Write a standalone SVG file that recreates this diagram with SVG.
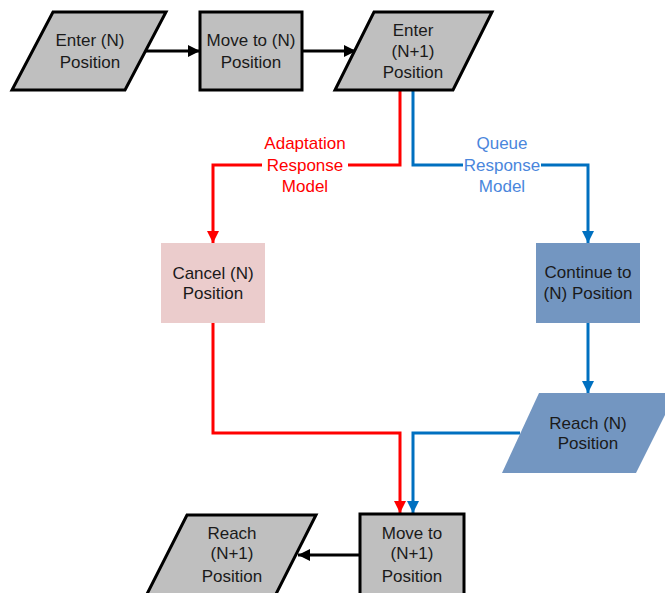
<svg xmlns="http://www.w3.org/2000/svg" width="665" height="593" viewBox="0 0 665 593">
<defs>
<style>
.t{font-family:"Liberation Sans",Arial,sans-serif;font-size:17px;fill:#1a1a1a;text-anchor:middle}
.g{fill:#bfbfbf;stroke:#000;stroke-width:3;stroke-linejoin:miter}
.pk{fill:#ebcccc}
.bl{fill:#7396c1}
.ln{fill:none;stroke-width:3}
.lr{font-family:"Liberation Sans",Arial,sans-serif;font-size:17px;fill:#ff0000;text-anchor:middle}
.lb{font-family:"Liberation Sans",Arial,sans-serif;font-size:17px;fill:#4a86dc;text-anchor:middle}
</style>
<marker id="ak" markerWidth="12" markerHeight="12" viewBox="0 0 12 12" refX="12" refY="6" orient="auto" markerUnits="userSpaceOnUse"><path d="M0,0 L12,6 L0,12 Z" fill="#000"/></marker>
<marker id="ar" markerWidth="12" markerHeight="12" viewBox="0 0 12 12" refX="12" refY="6" orient="auto" markerUnits="userSpaceOnUse"><path d="M0,0 L12,6 L0,12 Z" fill="#ff0000"/></marker>
<marker id="ab" markerWidth="12" markerHeight="12" viewBox="0 0 12 12" refX="12" refY="6" orient="auto" markerUnits="userSpaceOnUse"><path d="M0,0 L12,6 L0,12 Z" fill="#0070c0"/></marker>
</defs>
<rect width="665" height="593" fill="#fff"/>
<g id="connectors">
<line class="ln" x1="146" y1="51" x2="200" y2="51" stroke="#000" marker-end="url(#ak)"/>
<line class="ln" x1="302" y1="51" x2="356" y2="51" stroke="#000" marker-end="url(#ak)"/>
<polyline class="ln" points="400,90 400,165 213,165 213,243" stroke="#ff0000" marker-end="url(#ar)"/>
<polyline class="ln" points="413,90 413,165 588,165 588,243" stroke="#0070c0" marker-end="url(#ab)"/>
<polyline class="ln" points="213,323 213,433 400,433 400,513" stroke="#ff0000" marker-end="url(#ar)"/>
<line class="ln" x1="588" y1="323" x2="588" y2="393" stroke="#0070c0" marker-end="url(#ab)"/>
<polyline class="ln" points="520,433 413,433 413,513" stroke="#0070c0" marker-end="url(#ab)"/>
<line class="ln" x1="360" y1="555" x2="298" y2="555" stroke="#000" marker-end="url(#ak)"/>
<rect x="262" y="133" width="86" height="60" fill="#fff"/>
<rect x="463" y="133" width="78" height="60" fill="#fff"/>
<text class="lr" x="305" y="149">Adaptation</text>
<text class="lr" x="305" y="171">Response</text>
<text class="lr" x="305" y="192">Model</text>
<text class="lb" x="502" y="149">Queue</text>
<text class="lb" x="502" y="171">Response</text>
<text class="lb" x="502" y="192">Model</text>
</g>
<g id="enter-n">
<polygon class="g" points="53,12 166,12 125,90 12,90"/>
<text class="t" x="90" y="46">Enter (N)</text>
<text class="t" x="90" y="68">Position</text>
</g>
<g id="move-n">
<rect class="g" x="200" y="12" width="102" height="78"/>
<text class="t" x="251" y="46">Move to (N)</text>
<text class="t" x="251" y="68">Position</text>
</g>
<g id="enter-n1">
<polygon class="g" points="374,12 492,12 453,90 335,90"/>
<text class="t" x="413" y="36">Enter</text>
<text class="t" x="413" y="57">(N+1)</text>
<text class="t" x="413" y="78">Position</text>
</g>
<g id="cancel-n">
<rect class="pk" x="161" y="243" width="104" height="80"/>
<text class="t" x="213" y="279">Cancel (N)</text>
<text class="t" x="213" y="299">Position</text>
</g>
<g id="continue-n">
<rect class="bl" x="536" y="243" width="104" height="80"/>
<text class="t" x="588" y="278">Continue to</text>
<text class="t" x="588" y="299">(N) Position</text>
</g>
<g id="reach-n">
<polygon class="bl" points="539,393 676,393 636,473 502,473"/>
<text class="t" x="588" y="429">Reach (N)</text>
<text class="t" x="588" y="449">Position</text>
</g>
<g id="move-n1">
<rect class="g" x="360" y="514" width="104" height="82"/>
<text class="t" x="412" y="539">Move to</text>
<text class="t" x="412" y="559">(N+1)</text>
<text class="t" x="412" y="582">Position</text>
</g>
<g id="reach-n1">
<polygon class="g" points="187,515 316,515 275,596 146,596"/>
<text class="t" x="232" y="539">Reach</text>
<text class="t" x="232" y="559">(N+1)</text>
<text class="t" x="232" y="582">Position</text>
</g>
</svg>
